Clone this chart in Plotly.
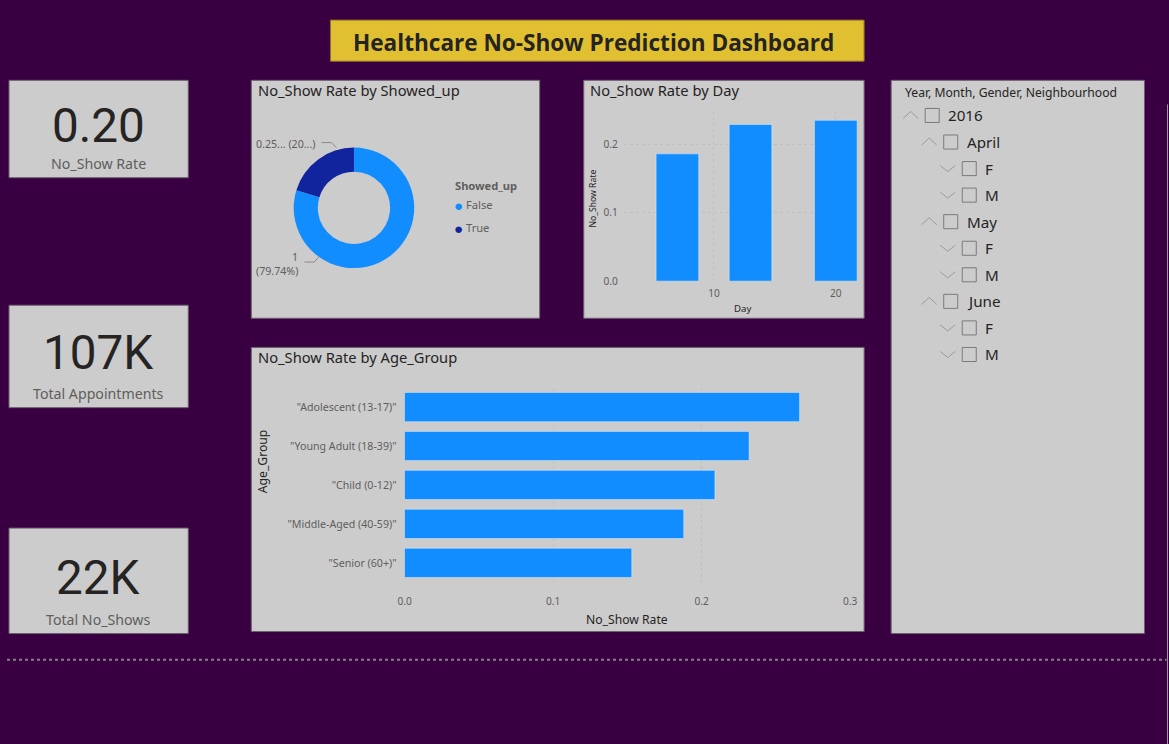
import plotly.graph_objects as go

# ---- data ----
kpi_values = ["0.20", "107K", "22K"]
kpi_labels = ["No_Show Rate", "Total Appointments", "Total No_Shows"]

showed_up_labels = ["False", "True"]
showed_up_rate = [1.0, 0.2541]

day_values = [7, 13, 20]
day_rate = [0.186, 0.229, 0.235]

age_groups = ['"Adolescent (13-17)"', '"Young Adult (18-39)"', '"Child (0-12)"',
              '"Middle-Aged (40-59)"', '"Senior (60+)"']
age_rate = [0.266, 0.232, 0.209, 0.188, 0.153]

slicer_items = ["2016", "April", "F", "M", "May", "F", "M", "June", "F", "M"]
slicer_levels = [0, 1, 2, 2, 1, 2, 2, 1, 2, 2]

# ---- page geometry ----
# the snapshot of the page comes out shrunk a little (about 744/754) and shifted
# ~7px right, so layout positions below are given in snapshot pixels and mapped back
W, H = 1169, 754
S = 744 / 754.0
OX = 7.0
BG = "#380040"
PANEL = "#cccccc"
BLUE = "#118dff"
DARK = "#12239e"
TXT = "#252423"
GREY = "#605e5c"
FONT = "Noto Sans"


def fx(x):
    return ((x - OX) / S) / W


def fy(y):
    return 1 - (y / S) / H


def fs(size):
    return size / S


shapes = []
annotations = []


def rect(x0, y0, x1, y1, fill, line="#6e5f70"):
    shapes.append(dict(type="rect", xref="paper", yref="paper",
                       x0=fx(x0), x1=fx(x1), y0=fy(y1), y1=fy(y0),
                       fillcolor=fill, line=dict(color=line, width=1), layer="below"))


def text(x, y, s, size=12, color=TXT, xanchor="left", family=FONT, angle=0):
    annotations.append(dict(x=fx(x), y=fy(y), xref="paper", yref="paper", text=s,
                            showarrow=False, xanchor=xanchor, yanchor="middle",
                            textangle=angle, font=dict(size=fs(size), color=color, family=family)))


def path(points, color="#8a8a8a", width=1):
    d = "M " + " L ".join("%f,%f" % (fx(px), fy(py)) for px, py in points)
    shapes.append(dict(type="path", xref="paper", yref="paper", path=d,
                       line=dict(color=color, width=width)))


# title banner
rect(330, 20, 863, 61, "#e0c031", line="#8a6d2a")
text(593, 42, "<b>Healthcare No-Show Prediction Dashboard</b>", size=22.3, xanchor="center",
     family="Open Sans")

# KPI cards
cards = [(80, 177), (304, 406), (526, 631)]
for (y0, y1), v, lab in zip(cards, kpi_values, kpi_labels):
    rect(9, y0, 188, y1, PANEL)
    mid = (y0 + y1) / 2
    text(98, mid - 3, v, size=47, xanchor="center", family="Roboto")
    text(98, y1 - 14, lab, size=14, color=GREY, xanchor="center")

# visual panels
rect(251, 80, 539, 317, PANEL)
rect(583, 80, 863, 317, PANEL)
rect(251, 346, 863, 629, PANEL)
rect(890, 80, 1143, 631, PANEL)

text(256, 90, "No_Show Rate by Showed_up", size=14.5)
text(587, 90, "No_Show Rate by Day", size=14.5)
text(256, 356, "No_Show Rate by Age_Group", size=14.5)

# donut labels with leader lines
total = sum(showed_up_rate)
pct = [v / total * 100 for v in showed_up_rate]
text(317, 143, "%.2f... (%.0f...)" % (showed_up_rate[1], pct[1]), size=10.5,
     color=GREY, xanchor="right")
path([(321, 142), (331, 142), (336, 147)])
text(300, 256, "%g" % showed_up_rate[0], size=10.5, color=GREY, xanchor="right")
text(300, 270, "(%.2f%%)" % pct[0], size=10.5, color=GREY, xanchor="right")
path([(304, 261), (314, 261), (319, 255)])

# donut legend
text(452, 185, "<b>Showed_up</b>", size=11, color=GREY)
for i, (lab, col) in enumerate(zip(showed_up_labels, [BLUE, DARK])):
    yy = 204 + i * 23
    text(451, yy, "●", size=15, color=col)
    text(463, yy, lab, size=11, color=GREY)

# axis titles
text(592, 198, "No_Show Rate", size=8.5, angle=-90, xanchor="center")
text(742, 307, "Day", size=9.5, xanchor="center")
text(626, 617, "No_Show Rate", size=12, xanchor="center")
text(263, 460, "Age_Group", size=12, angle=-90, xanchor="center")

# hierarchy slicer
text(902, 92, "Year, Month, Gender, Neighbourhood", size=12)
for i, (item, lvl) in enumerate(zip(slicer_items, slicer_levels)):
    yy = 115 + i * 26.45
    cx = 902 + lvl * 18.5
    if lvl < 2:
        path([(cx, yy + 3), (cx + 7.5, yy - 4), (cx + 15, yy + 3)], color="#9a9a9a")
    else:
        path([(cx, yy - 3), (cx + 7.5, yy + 3), (cx + 15, yy - 3)], color="#9a9a9a")
    bx = 924 + lvl * 18.5
    shapes.append(dict(type="rect", xref="paper", yref="paper",
                       x0=fx(bx), x1=fx(bx + 14), y0=fy(yy + 7), y1=fy(yy - 7),
                       line=dict(color="#7a7a7a", width=1), fillcolor=PANEL))
    text(945 + lvl * 18.5, yy, item, size=15)

# dotted separator and right edge line
shapes.append(dict(type="line", xref="paper", yref="paper", x0=0, x1=fx(1165),
                   y0=fy(657), y1=fy(657), line=dict(color="#8d7d90", width=2, dash="dot")))
shapes.append(dict(type="line", xref="paper", yref="paper", x0=fx(1166), x1=fx(1166),
                   y0=0, y1=fy(104), line=dict(color="#9a9a9a", width=1)))

fig = go.Figure()
fig.add_trace(go.Pie(labels=showed_up_labels, values=showed_up_rate, hole=0.6, sort=False,
                     direction="clockwise", rotation=0, textinfo="none", showlegend=False,
                     marker=dict(colors=[BLUE, DARK]),
                     domain=dict(x=[fx(293), fx(414)], y=[fy(267), fy(147)])))
fig.add_trace(go.Bar(x=day_values, y=day_rate, width=3.5, marker_color=BLUE,
                     showlegend=False, xaxis="x", yaxis="y"))
fig.add_trace(go.Bar(x=age_rate, y=age_groups, orientation="h", marker_color=BLUE,
                     showlegend=False, xaxis="x2", yaxis="y2"))

tick_font = dict(family=FONT, size=fs(10), color=GREY)
grid = dict(showgrid=True, gridcolor="#c0c0c0", griddash="dot", gridwidth=1,
            zeroline=False, showline=False, ticks="", tickfont=tick_font)

fig.update_layout(
    width=W, height=H,
    margin=dict(l=0, r=0, t=0, b=0),
    paper_bgcolor=BG, plot_bgcolor="rgba(0,0,0,0)",
    font=dict(family=FONT, color=TXT),
    bargap=0.25,
    xaxis=dict(domain=[fx(623), fx(856)], range=[2.6, 21.75], tickvals=[10, 20],
               anchor="y", ticklabelstandoff=5, **grid),
    yaxis=dict(domain=[fy(280), fy(111)], range=[0, 0.248], dtick=0.1, tickformat=".1f",
               anchor="x", ticklabelstandoff=5, **grid),
    xaxis2=dict(domain=[fx(404), fx(849)], range=[0, 0.3], dtick=0.1, tickformat=".1f",
                anchor="y2", ticklabelstandoff=12, **grid),
    yaxis2=dict(domain=[fy(580), fy(386)], categoryorder="array", categoryarray=age_groups,
                autorange="reversed", anchor="x2", showgrid=False, zeroline=False,
                ticks="", ticklabelstandoff=7,
                tickfont=dict(family=FONT, size=fs(10.5), color=GREY)),
    shapes=shapes,
    annotations=annotations,
)

page_fix = ("document.documentElement.style.margin='0';"
            "document.body.style.margin='0';"
            "document.documentElement.style.background='%s';"
            "document.body.style.background='%s';" % (BG, BG))
fig.write_html("out.html", config={"displayModeBar": False}, post_script=page_fix)
